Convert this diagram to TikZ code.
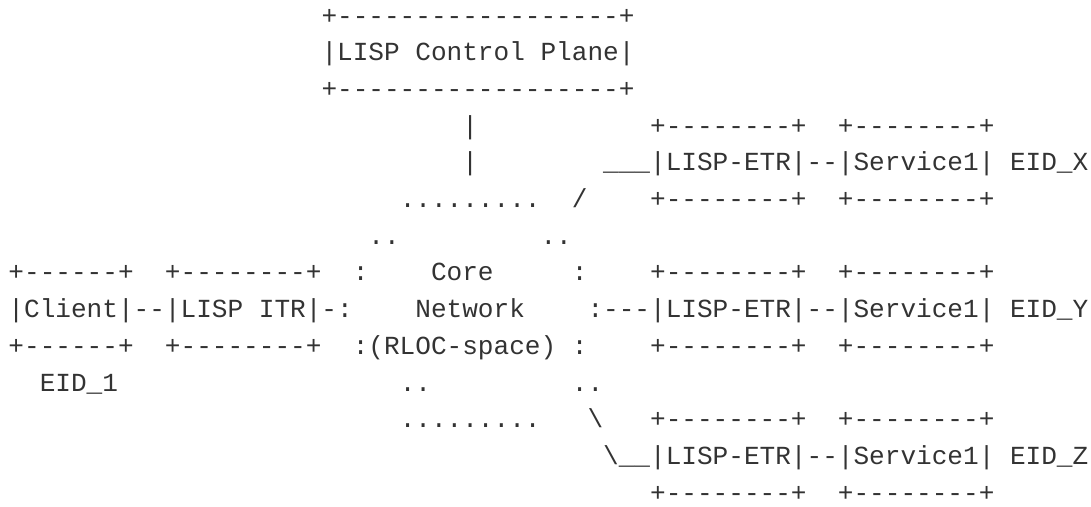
\documentclass[tikz,border=0pt]{standalone}
\usepackage{fontspec}
\setmonofont{Liberation Mono}
\definecolor{txtgray}{rgb}{0.2,0.2,0.2}

\begin{document}
\begin{tikzpicture}[x=15.65pt,y=-36.7pt,
    asc/.style={anchor=base west,inner sep=0pt,outer sep=0pt,color=txtgray,
        font=\ttfamily\fontsize{26.08}{36.7}\selectfont}]
        \useasboundingbox (-0.543,-0.654) rectangle (69.17,13.134);
        \node[asc] (ctltop) at (20,0) {+------------------+};
        \node[asc] (ctl) at (20,1) {|LISP Control Plane|};
        \node[asc] (ctlbot) at (20,2) {+------------------+};
        \node[asc] (ctllinka) at (29,3) {|};
        \node[asc] (etrxtop) at (41,3) {+--------+};
        \node[asc] (svcxtop) at (53,3) {+--------+};
        \node[asc] (ctllinkb) at (29,4) {|};
        \node[asc] (etrx) at (38,4) {\_\_\_|LISP-ETR|--|Service1| EID\_X};
        \node[asc] (coretop) at (25,5) {.........};
        \node[asc] (linkx) at (36,5) {/};
        \node[asc] (etrxbot) at (41,5) {+--------+};
        \node[asc] (svcxbot) at (53,5) {+--------+};
        \node[asc] (corenw) at (23,6) {..};
        \node[asc] (corene) at (34,6) {..};
        \node[asc] (clienttop) at (0,7) {+------+};
        \node[asc] (itrtop) at (10,7) {+--------+};
        \node[asc] (corew) at (22,7) {:};
        \node[asc] (corea) at (27,7) {Core};
        \node[asc] (coree) at (36,7) {:};
        \node[asc] (etrytop) at (41,7) {+--------+};
        \node[asc] (svcytop) at (53,7) {+--------+};
        \node[asc] (client) at (0,8) {|Client|--|LISP ITR|-:};
        \node[asc] (coreb) at (26,8) {Network};
        \node[asc] (etry) at (37,8) {:---|LISP-ETR|--|Service1| EID\_Y};
        \node[asc] (clientbot) at (0,9) {+------+};
        \node[asc] (itrbot) at (10,9) {+--------+};
        \node[asc] (corec) at (22,9) {:(RLOC-space)};
        \node[asc] (coree2) at (36,9) {:};
        \node[asc] (etrybot) at (41,9) {+--------+};
        \node[asc] (svcybot) at (53,9) {+--------+};
        \node[asc] (eidone) at (2,10) {EID\_1};
        \node[asc] (coresw) at (25,10) {..};
        \node[asc] (corese) at (36,10) {..};
        \node[asc] (corebot) at (25,11) {.........};
        \node[asc] (linkz) at (37,11) {\textbackslash};
        \node[asc] (etrztop) at (41,11) {+--------+};
        \node[asc] (svcztop) at (53,11) {+--------+};
        \node[asc] (etrz) at (38,12) {\textbackslash\_\_|LISP-ETR|--|Service1| EID\_Z};
        \node[asc] (etrzbot) at (41,13) {+--------+};
        \node[asc] (svczbot) at (53,13) {+--------+};
    \end{tikzpicture}
\end{document}
